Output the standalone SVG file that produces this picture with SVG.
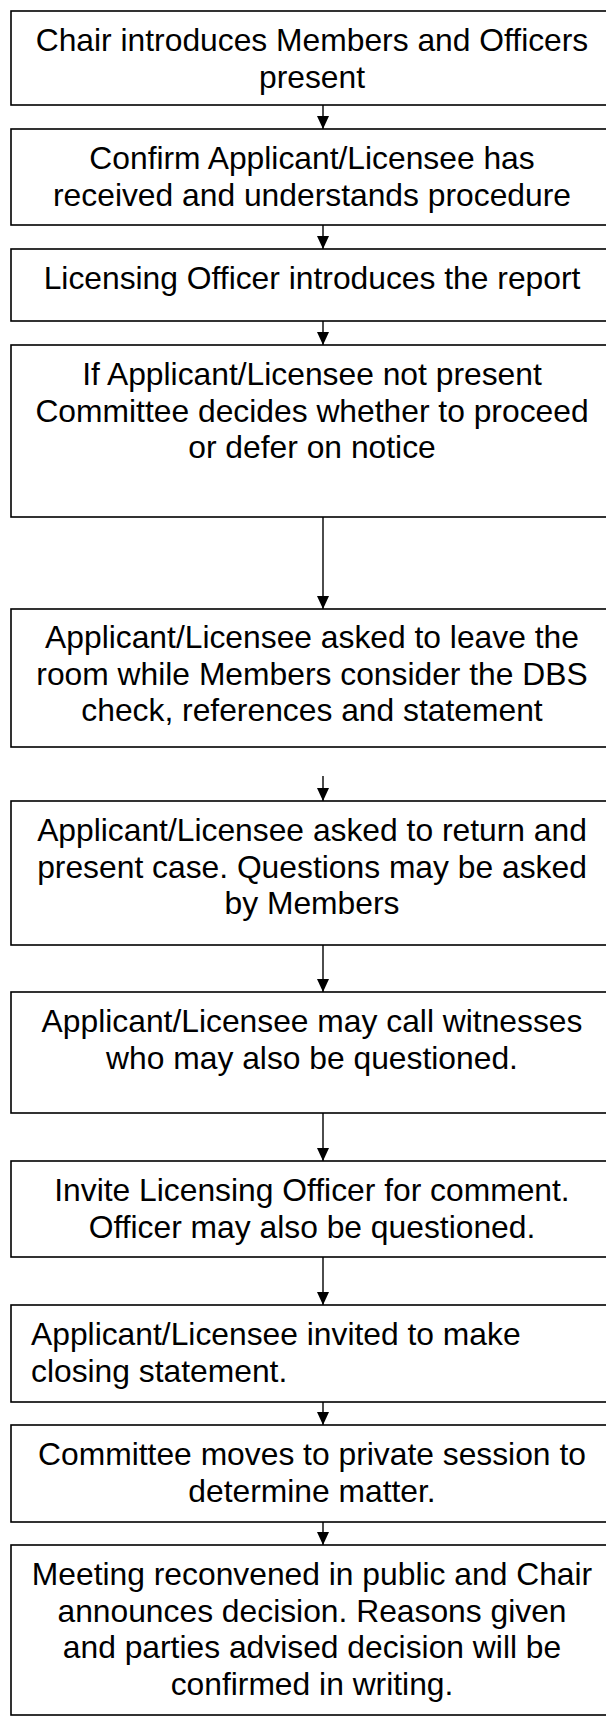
<svg xmlns="http://www.w3.org/2000/svg" width="606" height="1717" viewBox="0 0 606 1717">
<style>
.box{fill:#fff;stroke:#000;stroke-width:1.6}
.t{font-family:"Liberation Sans",Arial,sans-serif;font-size:31.8px;fill:#000;text-anchor:middle}
.l{text-anchor:start}
.c{stroke:#000;stroke-width:1.4;fill:none;marker-end:url(#ah)}
</style>
<defs>
<marker id="ah" markerUnits="userSpaceOnUse" markerWidth="13" markerHeight="12" viewBox="0 0 13 12" refX="13" refY="6" orient="auto">
<path d="M0,0 L13,6 L0,12 z" fill="#000"/>
</marker>
</defs>
<rect width="606" height="1717" fill="#fff"/>
<g id="connectors">
<line class="c" x1="323" y1="105" x2="323" y2="129"/>
<line class="c" x1="323" y1="225" x2="323" y2="249"/>
<line class="c" x1="323" y1="321" x2="323" y2="345"/>
<line class="c" x1="323" y1="517" x2="323" y2="609"/>
<line class="c" x1="323" y1="776" x2="323" y2="801"/>
<line class="c" x1="323" y1="945" x2="323" y2="992"/>
<line class="c" x1="323" y1="1113" x2="323" y2="1161"/>
<line class="c" x1="323" y1="1257" x2="323" y2="1305"/>
<line class="c" x1="323" y1="1402" x2="323" y2="1425"/>
<line class="c" x1="323" y1="1522" x2="323" y2="1545"/>
</g>
<g id="n1">
<rect class="box" x="11" y="11" width="602" height="94"/>
<text class="t" x="312" y="51">Chair introduces Members and Officers</text>
<text class="t" x="312" y="87.7">present</text>
</g>
<g id="n2">
<rect class="box" x="11" y="129" width="602" height="96"/>
<text class="t" x="312" y="169">Confirm Applicant/Licensee has</text>
<text class="t" x="312" y="205.7">received and understands procedure</text>
</g>
<g id="n3">
<rect class="box" x="11" y="249" width="602" height="72"/>
<text class="t" x="312" y="289">Licensing Officer introduces the report</text>
</g>
<g id="n4">
<rect class="box" x="11" y="345" width="602" height="172"/>
<text class="t" x="312" y="385">If Applicant/Licensee not present</text>
<text class="t" x="312" y="421.7">Committee decides whether to proceed</text>
<text class="t" x="312" y="458.4">or defer on notice</text>
</g>
<g id="n5">
<rect class="box" x="11" y="609" width="602" height="138"/>
<text class="t" x="312" y="648">Applicant/Licensee asked to leave the</text>
<text class="t" x="312" y="684.7">room while Members consider the DBS</text>
<text class="t" x="312" y="721.4">check, references and statement</text>
</g>
<g id="n6">
<rect class="box" x="11" y="801" width="602" height="144"/>
<text class="t" x="312" y="841">Applicant/Licensee asked to return and</text>
<text class="t" x="312" y="877.7">present case. Questions may be asked</text>
<text class="t" x="312" y="914.4">by Members</text>
</g>
<g id="n7">
<rect class="box" x="11" y="992" width="602" height="121"/>
<text class="t" x="312" y="1032">Applicant/Licensee may call witnesses</text>
<text class="t" x="312" y="1068.7">who may also be questioned.</text>
</g>
<g id="n8">
<rect class="box" x="11" y="1161" width="602" height="96"/>
<text class="t" x="312" y="1201">Invite Licensing Officer for comment.</text>
<text class="t" x="312" y="1237.7">Officer may also be questioned.</text>
</g>
<g id="n9">
<rect class="box" x="11" y="1305" width="602" height="97"/>
<text class="t l" x="31" y="1345">Applicant/Licensee invited to make</text>
<text class="t l" x="31" y="1381.7">closing statement.</text>
</g>
<g id="n10">
<rect class="box" x="11" y="1425" width="602" height="97"/>
<text class="t" x="312" y="1465">Committee moves to private session to</text>
<text class="t" x="312" y="1501.7">determine matter.</text>
</g>
<g id="n11">
<rect class="box" x="11" y="1545" width="602" height="170"/>
<text class="t" x="312" y="1585">Meeting reconvened in public and Chair</text>
<text class="t" x="312" y="1621.7">announces decision. Reasons given</text>
<text class="t" x="312" y="1658.4">and parties advised decision will be</text>
<text class="t" x="312" y="1695.1">confirmed in writing.</text>
</g>
</svg>
